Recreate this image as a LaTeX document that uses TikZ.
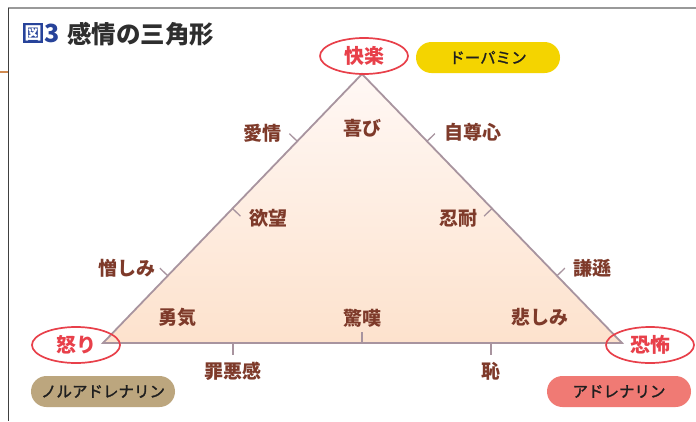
\documentclass[tikz,border=0pt]{standalone}
\usepackage{fontspec}
\newfontfamily\jp{Noto Sans CJK JP}
\newfontfamily\jpm{Noto Sans CJK JP}[FakeBold=1.6]
\usetikzlibrary{calc,shapes.geometric}
\definecolor{edgec}{HTML}{A8949F}
\definecolor{labc}{HTML}{7E3A2A}
\definecolor{redc}{HTML}{E8404A}
\definecolor{yel}{HTML}{F4D400}
\definecolor{tan}{HTML}{BCA67E}
\definecolor{pink}{HTML}{F07A74}
\definecolor{titleblue}{HTML}{27439A}
\definecolor{fillTop}{HTML}{FFF8F5}
\definecolor{fillBot}{HTML}{FDE2CD}
\definecolor{orangec}{HTML}{D08A50}
\tikzset{
  lab/.style={font=\jp\bfseries\fontsize{19}{21}\selectfont, text=labc, inner sep=0pt},
  emo/.style={ellipse, draw=redc, line width=1.7pt, minimum width=88pt, minimum height=36pt, inner sep=0pt,
    font=\jp\bfseries\fontsize{20}{22}\selectfont, text=redc},
  pill/.style={rounded corners=15.5pt, minimum width=144pt, minimum height=31pt, inner sep=0pt,
    font=\jpm\fontsize{15.5}{17}\selectfont, text=black!88},
  tick/.style={draw=edgec, line width=1.3pt}
}
\begin{document}
\begin{tikzpicture}[x=1pt,y=-1pt]
\useasboundingbox (0,0) rectangle (696,421);
\fill[white] (0,0) rectangle (696,421);
% frame
\coordinate (fTL) at (8,8);
\coordinate (fTR) at (696,8);
\coordinate (fBL) at (8,421);
\coordinate (oL) at (0,72);
\coordinate (oR) at (8,72);
\draw[gray!80, line width=1.5pt] (fTL) -- (fTR);
\draw[black!75, line width=0.9pt] (fTL) -- (fBL);
\draw[orangec, line width=1.5pt] (oL) -- (oR);
% title
\node[fill=titleblue, text=white, minimum size=20pt, inner sep=0pt, anchor=north west,
  font=\jp\bfseries\fontsize{17}{18}\selectfont] (zu) at (23,23) {図};
\node[anchor=west, inner sep=0pt, text=titleblue, font=\jp\bfseries\fontsize{25}{27}\selectfont] (three) at ($(zu.east)+(1,0)$) {3};
\node[anchor=west, inner sep=0pt, text=black!82, font=\jp\bfseries\fontsize{24.5}{26}\selectfont] (title) at ($(three.east)+(7,0.5)$) {感情の三角形};
% triangle
\coordinate (A) at (362,74);
\coordinate (L) at (103,343);
\coordinate (R) at (622,343);
\shade[top color=fillTop, bottom color=fillBot] (A) -- (L) -- (R) -- cycle;
\draw[edgec, line width=1.8pt, line join=miter] (A) -- (L) -- (R) -- cycle;
% ticks on left edge
\coordinate (l1) at ($(L)!0.25!(A)$);
\coordinate (l2) at ($(L)!0.5!(A)$);
\coordinate (l3) at ($(L)!0.75!(A)$);
\coordinate (l1e) at ($(l1)+(-7.9,-7.6)$);
\coordinate (l2e) at ($(l2)+(7.9,7.6)$);
\coordinate (l3e) at ($(l3)+(-7.9,-7.6)$);
\draw[tick] (l1) -- (l1e);
\draw[tick] (l2) -- (l2e);
\draw[tick] (l3) -- (l3e);
% right edge
\coordinate (r1) at ($(A)!0.25!(R)$);
\coordinate (r2) at ($(A)!0.5!(R)$);
\coordinate (r3) at ($(A)!0.75!(R)$);
\coordinate (r1e) at ($(r1)+(7.9,-7.6)$);
\coordinate (r2e) at ($(r2)+(-7.9,7.6)$);
\coordinate (r3e) at ($(r3)+(7.9,-7.6)$);
\draw[tick] (r1) -- (r1e);
\draw[tick] (r2) -- (r2e);
\draw[tick] (r3) -- (r3e);
% base ticks
\coordinate (b1) at (233,343);
\coordinate (b1e) at (233,355);
\coordinate (b2) at (362,343);
\coordinate (b2e) at (362,332);
\coordinate (b3) at (491,343);
\coordinate (b3e) at (491,355);
\draw[tick] (b1) -- (b1e);
\draw[tick] (b2) -- (b2e);
\draw[tick] (b3) -- (b3e);
% labels
\node[lab] (aijo) at (262,133) {愛情};
\node[lab] (yoku) at (268,218) {欲望};
\node[lab] (zou) at (127,268) {憎しみ};
\node[lab] (jison) at (473,132) {自尊心};
\node[lab] (nin) at (458,218) {忍耐};
\node[lab] (ken) at (592,268) {謙遜};
\node[lab] (yoro) at (362,128) {喜び};
\node[lab] (yuki) at (177,317) {勇気};
\node[lab] (kyo) at (362,318) {驚嘆};
\node[lab] (kana) at (540,317) {悲しみ};
\node[lab] (zai) at (233,371) {罪悪感};
\node[lab] (haji) at (491,371) {恥};
% emotion ellipses
\node[emo] (kai) at (364,56) {快楽};
\node[emo] (ika) at (76,345) {怒り};
\node[emo] (kyofu) at (650,345) {恐怖};
% hormone pills
\node[pill, fill=yel] (dop) at (488,57.5) {ドーパミン};
\node[pill, fill=tan] (nor) at (103,391.5) {ノルアドレナリン};
\node[pill, fill=pink] (adr) at (619,391.5) {アドレナリン};
\end{tikzpicture}
\end{document}
